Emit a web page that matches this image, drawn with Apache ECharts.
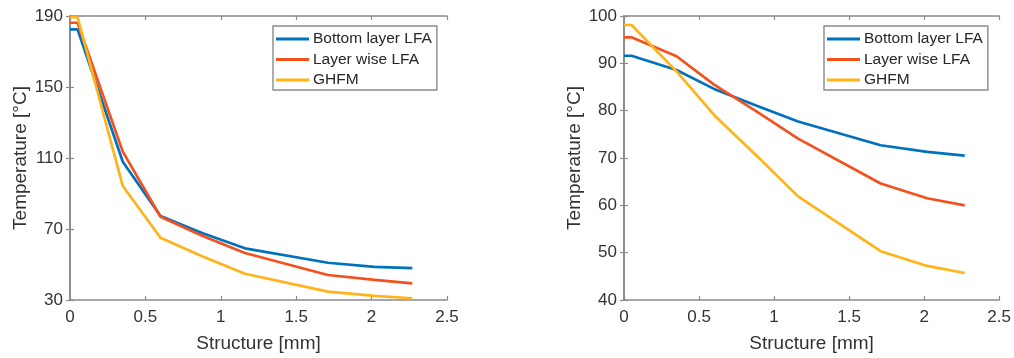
<!DOCTYPE html>
<html>
<head>
<meta charset="utf-8">
<script src="https://cdn.jsdelivr.net/npm/echarts@6/dist/echarts.min.js"></script>
<style>
  html, body { margin: 0; padding: 0; background: #ffffff; }
  #chart { width: 1014px; height: 358px; }
</style>
</head>
<body>
<div id="chart"></div>
<script>
// ---- data ----
const seriesNames = ['Bottom layer LFA', 'Layer wise LFA', 'GHFM'];
const xValues = [0, 0.05, 0.35, 0.6, 0.88, 1.16, 1.71, 2.02, 2.27];

const leftBottom = [182.5, 182.5, 107.9, 77.3, 67.6, 59.1, 51.0, 48.7, 48.0];
const leftLayer  = [186.2, 186.2, 113.6, 76.9, 66.1, 56.5, 44.1, 41.3, 39.4];
const leftGhfm   = [189.3, 189.3, 94.2, 65.1, 54.5, 44.8, 34.7, 32.3, 31.0];

const rightBottom = [91.6, 91.6, 88.6, 84.6, 81.1, 77.7, 72.7, 71.3, 70.5];
const rightLayer  = [95.5, 95.5, 91.5, 85.5, 79.9, 74.1, 64.6, 61.5, 60.0];
const rightGhfm   = [98.1, 98.1, 88.3, 79.1, 70.6, 61.9, 50.3, 47.2, 45.7];

const xTicks = [0, 0.5, 1, 1.5, 2, 2.5];
const leftYTicks = [30, 70, 110, 150, 190];
const rightYTicks = [40, 50, 60, 70, 80, 90, 100];

const xLabel = 'Structure [mm]';
const yLabel = 'Temperature [°C]';

// ---- styling ----
const colors = ['#0072BD', '#F4511E', '#FFB319'];
const FONT = '"Liberation Sans", Arial, Helvetica, sans-serif';
const textColor = '#333333';
const axisColor = '#8a8a8a';

function pairs(arr) { return xValues.map((x, i) => [x, arr[i]]); }

function axisLineStyle() { return { show: true, lineStyle: { color: axisColor, width: 1.6 } }; }

function xAxes(gi) {
  return [
    {
      type: 'value', gridIndex: gi, position: 'bottom', min: 0, max: 2.5,
      axisLine: axisLineStyle(),
      axisTick: { show: true, inside: true, length: 4, customValues: xTicks, lineStyle: { color: axisColor, width: 1.2 } },
      axisLabel: { show: true, customValues: xTicks, color: textColor, fontSize: 17, fontFamily: FONT, margin: 9 },
      splitLine: { show: false },
      name: xLabel, nameLocation: 'middle', nameGap: 34,
      nameTextStyle: { color: textColor, fontSize: 19, fontFamily: FONT }
    },
    {
      type: 'value', gridIndex: gi, position: 'top', min: 0, max: 2.5,
      axisLine: axisLineStyle(),
      axisTick: { show: true, inside: true, length: 4, customValues: xTicks, lineStyle: { color: axisColor, width: 1.2 } },
      axisLabel: { show: false },
      splitLine: { show: false }
    }
  ];
}

function yAxes(gi, ticks) {
  const mn = ticks[0], mx = ticks[ticks.length - 1];
  return [
    {
      type: 'value', gridIndex: gi, position: 'left', min: mn, max: mx,
      axisLine: axisLineStyle(),
      axisTick: { show: true, inside: true, length: 4, customValues: ticks, lineStyle: { color: axisColor, width: 1.2 } },
      axisLabel: { show: true, customValues: ticks, color: textColor, fontSize: 17, fontFamily: FONT, margin: 7 },
      splitLine: { show: false },
      name: yLabel, nameLocation: 'middle', nameGap: 39,
      nameTextStyle: { color: textColor, fontSize: 19, fontFamily: FONT }
    },
    {
      type: 'value', gridIndex: gi, position: 'right', min: mn, max: mx,
      axisLine: axisLineStyle(),
      axisTick: { show: true, inside: true, length: 4, customValues: ticks, lineStyle: { color: axisColor, width: 1.2 } },
      axisLabel: { show: false },
      splitLine: { show: false }
    }
  ];
}

function lineSeries(name, arr, idx, gi) {
  return {
    type: 'line', name: name, data: pairs(arr),
    xAxisIndex: gi * 2, yAxisIndex: gi * 2,
    symbol: 'none', smooth: false, clip: true,
    lineStyle: { color: colors[idx], width: 2.7 },
    itemStyle: { color: colors[idx] },
    z: 3 + idx
  };
}

function legend(left) {
  return {
    data: seriesNames, orient: 'vertical', left: left, top: 26,
    icon: 'rect', itemWidth: 33, itemHeight: 3, itemGap: 4.5,
    padding: [5, 5, 2, 3],
    borderColor: axisColor, borderWidth: 1.4, backgroundColor: '#ffffff',
    textStyle: { color: '#262626', fontSize: 15.5, lineHeight: 16, fontFamily: FONT, padding: [0, 0, 0, -1] },
    selectedMode: false
  };
}

const option = {
  animation: false,
  backgroundColor: '#ffffff',
  grid: [
    { left: 70, top: 16, width: 377, height: 284 },
    { left: 624, top: 16, width: 376, height: 284 }
  ],
  xAxis: [...xAxes(0), ...xAxes(1)],
  yAxis: [...yAxes(0, leftYTicks), ...yAxes(1, rightYTicks)],
  legend: [legend(273), legend(824)],
  series: [
    lineSeries(seriesNames[0], leftBottom, 0, 0),
    lineSeries(seriesNames[1], leftLayer, 1, 0),
    lineSeries(seriesNames[2], leftGhfm, 2, 0),
    lineSeries(seriesNames[0], rightBottom, 0, 1),
    lineSeries(seriesNames[1], rightLayer, 1, 1),
    lineSeries(seriesNames[2], rightGhfm, 2, 1)
  ]
};

const chart = echarts.init(document.getElementById('chart'), null, { renderer: 'canvas' });
chart.setOption(option);
</script>
</body>
</html>
